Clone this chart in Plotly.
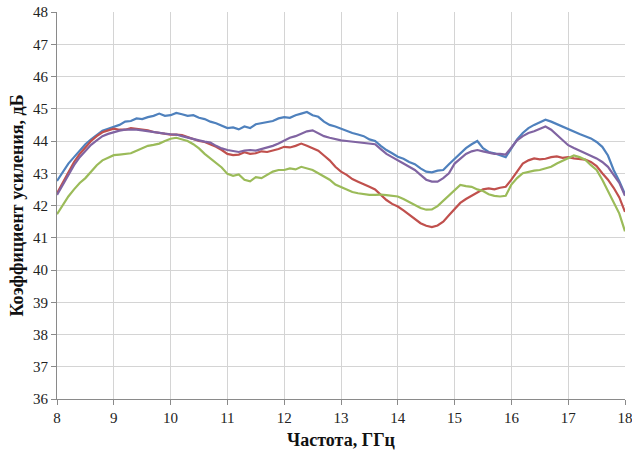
import numpy as np
import plotly.graph_objects as go

freq = [round(8 + 0.1 * i, 1) for i in range(101)]

blue = [42.76, 43.05, 43.3, 43.5, 43.7, 43.9, 44.05, 44.2, 44.32, 44.38,
        44.43, 44.5, 44.6, 44.62, 44.7, 44.68, 44.74, 44.78, 44.85, 44.78,
        44.8, 44.87, 44.83, 44.78, 44.8, 44.72, 44.68, 44.6, 44.55, 44.48,
        44.4, 44.42, 44.36, 44.45, 44.4, 44.52, 44.55, 44.6, 44.62, 44.7,
        44.74, 44.72, 44.8, 44.85, 44.9, 44.8, 44.75, 44.6, 44.5, 44.45,
        44.38, 44.32, 44.25, 44.2, 44.15, 44.05, 44.0, 43.85, 43.72, 43.62,
        43.51, 43.45, 43.35, 43.28, 43.15, 43.05, 43.03, 43.08, 43.1, 43.28,
        43.45, 43.62, 43.78, 43.9, 44.0, 43.78, 43.66, 43.62, 43.56, 43.5,
        43.77, 44.05, 44.25, 44.4, 44.5, 44.58, 44.66, 44.6, 44.52, 44.45,
        44.38, 44.3, 44.22, 44.15, 44.08, 43.97, 43.82, 43.55, 43.1, 42.75,
        42.35]

red = [42.38, 42.7, 43.05, 43.35, 43.6, 43.8, 44.0, 44.15, 44.27, 44.33,
       44.38, 44.35, 44.35, 44.4, 44.38, 44.35, 44.33, 44.28, 44.25, 44.22,
       44.2, 44.2, 44.18, 44.12, 44.05, 44.0, 43.97, 43.9, 43.82, 43.72,
       43.6, 43.56, 43.58, 43.65, 43.6, 43.62, 43.68, 43.66, 43.7, 43.75,
       43.82, 43.8, 43.85, 43.92, 43.85, 43.77, 43.7, 43.55, 43.4, 43.2,
       43.05, 42.95, 42.82, 42.74, 42.65, 42.58, 42.5, 42.32, 42.17, 42.05,
       41.97, 41.85, 41.72, 41.6, 41.45, 41.37, 41.33, 41.38, 41.5, 41.7,
       41.9, 42.08, 42.2, 42.3, 42.42, 42.5, 42.53, 42.5, 42.55, 42.58,
       42.8, 43.05, 43.3, 43.4, 43.46, 43.43, 43.45, 43.5, 43.52, 43.48,
       43.5, 43.46, 43.45, 43.42, 43.35, 43.22, 43.0, 42.8, 42.55, 42.25,
       41.8]

purple = [42.33, 42.65, 42.95, 43.25, 43.5, 43.7, 43.88, 44.02, 44.15, 44.22,
          44.28, 44.32, 44.35, 44.36, 44.35, 44.33, 44.3, 44.28, 44.25, 44.23,
          44.21, 44.2, 44.15, 44.1, 44.05, 44.02, 43.98, 43.95, 43.85, 43.77,
          43.72, 43.7, 43.66, 43.7, 43.72, 43.7, 43.75, 43.78, 43.85, 43.92,
          44.02, 44.1, 44.15, 44.22, 44.3, 44.33, 44.25, 44.15, 44.1, 44.05,
          44.02, 44.0, 43.98, 43.97, 43.95, 43.93, 43.9, 43.75, 43.6, 43.5,
          43.41, 43.3, 43.2, 43.1, 42.95, 42.8, 42.74, 42.74, 42.85, 43.0,
          43.3, 43.45, 43.6, 43.68, 43.72, 43.68, 43.64, 43.6, 43.6, 43.58,
          43.8, 44.02, 44.15, 44.25, 44.3, 44.38, 44.45, 44.35, 44.2, 44.05,
          43.87, 43.78, 43.7, 43.62, 43.55, 43.46, 43.35, 43.2, 42.95, 42.7,
          42.3]

green = [41.73, 42.0, 42.28, 42.5, 42.7, 42.85, 43.05, 43.25, 43.4, 43.48,
         43.56, 43.58, 43.6, 43.62, 43.7, 43.78, 43.85, 43.88, 43.92, 44.0,
         44.07, 44.1, 44.04, 44.0, 43.9, 43.77, 43.6, 43.46, 43.3, 43.18,
         42.98, 42.92, 42.96, 42.8, 42.75, 42.88, 42.85, 42.95, 43.05, 43.1,
         43.1, 43.15, 43.12, 43.2, 43.15, 43.1, 43.0, 42.9, 42.8, 42.65,
         42.58, 42.5, 42.42, 42.38, 42.35, 42.33, 42.33, 42.34, 42.32, 42.3,
         42.28, 42.2, 42.1, 42.02, 41.92, 41.87, 41.88, 41.98, 42.15, 42.33,
         42.5, 42.64, 42.6, 42.58, 42.5, 42.45, 42.35, 42.3, 42.28, 42.3,
         42.65, 42.85, 43.0, 43.05, 43.08, 43.1, 43.15, 43.2, 43.3, 43.38,
         43.46, 43.55, 43.5, 43.42, 43.25, 43.1, 42.8, 42.45, 42.1, 41.75,
         41.2]

x_ticks = [8, 9, 10, 11, 12, 13, 14, 15, 16, 17, 18]
y_ticks = [36, 37, 38, 39, 40, 41, 42, 43, 44, 45, 46, 47, 48]

series = [
    ("blue", blue, "#4f81bd"),
    ("red", red, "#c0504d"),
    ("purple", purple, "#8064a2"),
    ("green", green, "#9bbb59"),
]

fig = go.Figure()
for name, vals, col in series:
    fig.add_trace(go.Scatter(x=freq, y=vals, mode="lines", name=name,
                             line=dict(color=col, width=2.2)))

font_family = "Liberation Serif"

fig.update_layout(
    width=632, height=450,
    margin=dict(l=57, r=7, t=12, b=51),
    paper_bgcolor="white", plot_bgcolor="white",
    showlegend=False,
    font=dict(family=font_family, size=15, color="#222222"),
    xaxis=dict(
        range=[8, 18], tickvals=x_ticks, ticktext=[str(v) for v in x_ticks],
        showgrid=True, gridcolor="#d4d4d4", gridwidth=1,
        showline=True, linecolor="#8a8a8a", linewidth=1,
        ticks="outside", ticklen=5, tickcolor="#8a8a8a",
        zeroline=False, automargin=False, ticklabeloverflow="allow",
        title=dict(text="<b>Частота, ГГц</b>", font=dict(family=font_family, size=18, color="#111111"), standoff=8),
        tickfont=dict(family=font_family, size=15, color="#222222"),
    ),
    yaxis=dict(
        range=[36, 48], tickvals=y_ticks, ticktext=[str(v) for v in y_ticks],
        showgrid=True, gridcolor="#d4d4d4", gridwidth=1,
        showline=True, linecolor="#8a8a8a", linewidth=1,
        ticks="outside", ticklen=5, tickcolor="#8a8a8a",
        zeroline=False, automargin=False,
        title=dict(text="<b>Коэффициент усиления, дБ</b>", font=dict(family=font_family, size=18, color="#111111"), standoff=4),
        tickfont=dict(family=font_family, size=15, color="#222222"),
    ),
)

fig.write_html("out.html", config={"displayModeBar": False},
               post_script="document.body.style.margin='0px';")
